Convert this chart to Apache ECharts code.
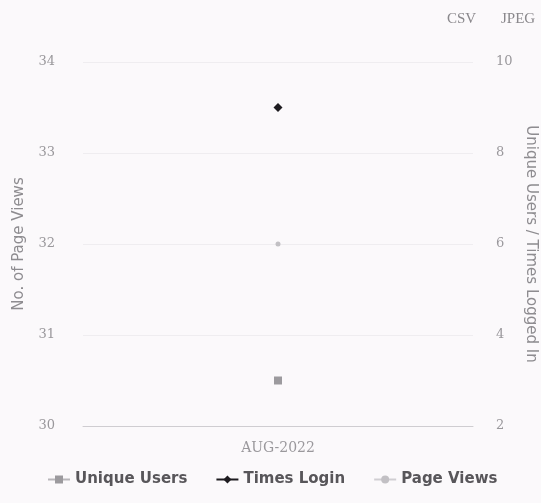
<!DOCTYPE html>
<html>
<head>
<meta charset="utf-8">
<script src="https://cdn.jsdelivr.net/npm/echarts@6/dist/echarts.min.js"></script>
<style>
  html, body { margin: 0; padding: 0; background: #fbf9fb; }
  #chart { width: 541px; height: 503px; }
</style>
</head>
<body>
<div id="chart"></div>
<script>
// Monthly activity: page views on the left axis, users / logins on the right
const months = ['AUG-2022'];
const uniqueUsers = [3];
const timesLogin = [9];
const pageViews = [32];

const chart = echarts.init(document.getElementById('chart'), null, { renderer: 'canvas' });

const tickFont = { color: '#9a989c', fontSize: 13, fontFamily: 'DejaVu Serif' };
const nameFont = { color: '#8e8c90', fontSize: 15, fontFamily: 'DejaVu Sans' };

chart.setOption({
  backgroundColor: '#fbf9fb',
  animation: false,
  graphic: [
    { type: 'text', left: 447, top: 12, style: { text: 'CSV', fill: '#8a888c', fontSize: 15, fontFamily: 'Liberation Serif' } },
    { type: 'text', left: 501, top: 12, style: { text: 'JPEG', fill: '#8a888c', fontSize: 15, fontFamily: 'Liberation Serif' } }
  ],
  legend: {
    bottom: 11,
    left: 42,
    itemGap: 28,
    itemWidth: 22,
    itemHeight: 10,
    textStyle: { color: '#58565a', fontSize: 15, fontWeight: 'bold', fontFamily: 'DejaVu Sans' },
    data: ['Unique Users', 'Times Login', 'Page Views']
  },
  grid: { left: 83, right: 68, top: 62, bottom: 77, outerBoundsMode: 'none', containLabel: false },
  xAxis: {
    type: 'category',
    data: months,
    boundaryGap: true,
    axisLine: { lineStyle: { color: '#cfcdd1' } },
    axisTick: { show: false },
    axisLabel: { color: '#9a989c', fontSize: 14, fontFamily: 'DejaVu Serif', margin: 15 }
  },
  yAxis: [
    {
      type: 'value',
      min: 30, max: 34, interval: 1,
      name: 'No. of Page Views',
      nameLocation: 'middle',
      nameGap: 56,
      nameTextStyle: nameFont,
      axisLine: { show: false },
      axisTick: { show: false },
      axisLabel: Object.assign({ margin: 28 }, tickFont),
      splitLine: { lineStyle: { color: '#efedf0' } }
    },
    {
      type: 'value',
      min: 2, max: 10, interval: 2,
      name: 'Unique Users / Times Logged In',
      nameLocation: 'middle',
      nameGap: 49,
      nameRotate: -90,
      nameTextStyle: nameFont,
      axisLine: { show: false },
      axisTick: { show: false },
      axisLabel: Object.assign({ margin: 23 }, tickFont),
      splitLine: { show: false }
    }
  ],
  series: [
    {
      name: 'Unique Users',
      type: 'line',
      yAxisIndex: 1,
      data: uniqueUsers,
      symbol: 'rect',
      symbolSize: 8,
      itemStyle: { color: '#9c9a9e' },
      lineStyle: { color: '#b8b6ba' }
    },
    {
      name: 'Times Login',
      type: 'line',
      yAxisIndex: 1,
      data: timesLogin,
      symbol: 'diamond',
      symbolSize: 9,
      itemStyle: { color: '#1e1c20' },
      lineStyle: { color: '#1e1c20' }
    },
    {
      name: 'Page Views',
      type: 'line',
      yAxisIndex: 0,
      data: pageViews,
      symbol: 'circle',
      symbolSize: 5,
      itemStyle: { color: '#c2c0c4' },
      lineStyle: { color: '#d0ced2' }
    }
  ]
});
</script>
</body>
</html>
